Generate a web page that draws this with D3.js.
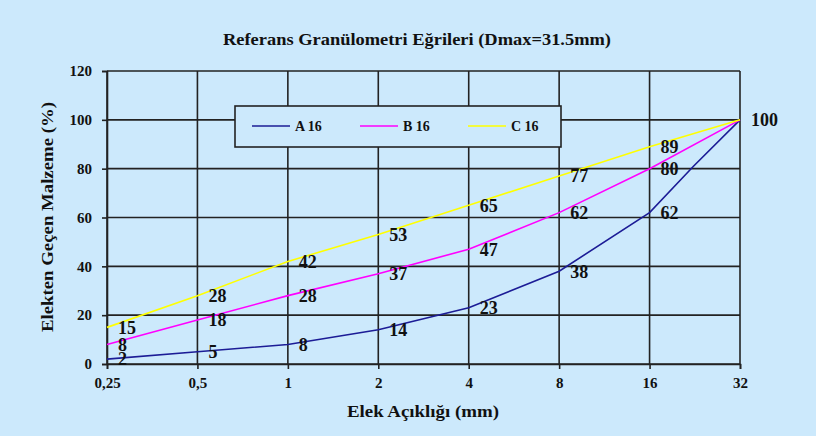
<!DOCTYPE html>
<html>
<head>
<meta charset="utf-8">
<script src="https://cdn.jsdelivr.net/npm/d3@7"></script>
<style>
  body { margin: 0; background: #cce9fc; }
  text { font-family: "Liberation Serif", "DejaVu Serif", serif; font-weight: bold; fill: #111; }
</style>
</head>
<body>
<div id="container"></div>
<script>
let w = 816;
let h = 436;

// sieve sizes (mm) and passing percentages
let sieves = [0.25, 0.5, 1, 2, 4, 8, 16, 32];
let tickLabels = ["0,25", "0,5", "1", "2", "4", "8", "16", "32"];
let aSieves = [0.25, 0.5, 1, 2, 4, 8, 16, 22.4, 32];
let aValues = [2, 5, 8, 14, 23, 38, 62, 81, 100];
let bValues = [8, 18, 28, 37, 47, 62, 80, 100];
let cValues = [15, 28, 42, 53, 65, 77, 89, 100];
let yTicks = [0, 20, 40, 60, 80, 100, 120];
let seriesNames = ["A 16", "B 16", "C 16"];
let seriesColors = ["#1c1c96", "#ff00ff", "#ffff00"];

let plotLeft = 107, plotRight = 740, plotTop = 71, plotBottom = 364;

let viz = d3.select("#container")
  .append("svg")
    .attr("width", w)
    .attr("height", h)
    .style("background-color", "#cce9fc")
;

let xScale = d3.scaleLog().base(2).domain([0.25, 32]).range([plotLeft, plotRight]);
let yScale = d3.scaleLinear().domain([0, 120]).range([plotBottom, plotTop]);

// title
viz.append("text")
  .text("Referans Granülometri Eğrileri (Dmax=31.5mm)")
  .attr("x", 417).attr("y", 45)
  .attr("text-anchor", "middle")
  .attr("textLength", 388).attr("lengthAdjust", "spacingAndGlyphs")
  .style("font-size", "17px")
;

// grid
viz.append("g").selectAll("line").data(yTicks).enter()
  .append("line")
    .attr("x1", plotLeft).attr("x2", plotRight)
    .attr("y1", d => yScale(d)).attr("y2", d => yScale(d))
    .attr("stroke", "#222").attr("stroke-width", 1.6)
;
viz.append("g").selectAll("line").data(sieves).enter()
  .append("line")
    .attr("x1", d => xScale(d)).attr("x2", d => xScale(d))
    .attr("y1", plotTop).attr("y2", plotBottom)
    .attr("stroke", "#222").attr("stroke-width", 1.6)
;

// axes
let xAxis = d3.axisBottom(xScale)
  .tickValues(sieves)
  .tickFormat((d, i) => tickLabels[i])
  .tickSize(5).tickPadding(8);
let xg = viz.append("g").attr("transform", "translate(0," + plotBottom + ")").call(xAxis);
xg.select(".domain").attr("stroke", "#222").attr("stroke-width", 1.6);
xg.selectAll(".tick line").attr("stroke", "#222").attr("stroke-width", 1.6);
xg.selectAll("text").style("font-size", "15px").attr("fill", "#111");

let yAxis = d3.axisLeft(yScale)
  .tickValues(yTicks)
  .tickSize(5).tickPadding(10);
let yg = viz.append("g").attr("transform", "translate(" + plotLeft + ",0)").call(yAxis);
yg.select(".domain").attr("stroke", "#222").attr("stroke-width", 1.6);
yg.selectAll(".tick line").attr("stroke", "#222").attr("stroke-width", 1.6);
yg.selectAll("text").style("font-size", "15px").attr("fill", "#111");

// axis titles
viz.append("text")
  .text("Elek Açıklığı (mm)")
  .attr("x", 423).attr("y", 417)
  .attr("text-anchor", "middle")
  .attr("textLength", 152).attr("lengthAdjust", "spacingAndGlyphs")
  .style("font-size", "16px")
;
viz.append("text")
  .text("Elekten Geçen Malzeme (%)")
  .attr("transform", "translate(53,217) rotate(-90)")
  .attr("text-anchor", "middle")
  .attr("textLength", 230).attr("lengthAdjust", "spacingAndGlyphs")
  .style("font-size", "16px")
;

// lines
let lineGen = d3.line()
  .x(d => xScale(d[0]))
  .y(d => yScale(d[1]));

let seriesData = [
  d3.zip(aSieves, aValues),
  d3.zip(sieves, bValues),
  d3.zip(sieves, cValues)
];

viz.append("g").selectAll("path").data(seriesData).enter()
  .append("path")
    .attr("d", lineGen)
    .attr("fill", "none")
    .attr("stroke", (d, i) => seriesColors[i])
    .attr("stroke-width", 1.6)
;

// data labels (A has no label at 22.4, the 100 end point labelled once)
let labelData = [];
sieves.forEach((s, i) => {
  if (s == 32) return;
  labelData.push([s, aValues[i]]);
  labelData.push([s, bValues[i]]);
  labelData.push([s, cValues[i]]);
});
labelData.push([32, 100]);

viz.append("g").selectAll("text").data(labelData).enter()
  .append("text")
    .text(d => d[1])
    .attr("x", d => xScale(d[0]) + 11)
    .attr("y", d => yScale(d[1]))
    .attr("dy", "0.35em")
    .style("font-size", "18px")
;

// legend
let legend = viz.append("g");
legend.append("rect")
  .attr("x", 235).attr("y", 106)
  .attr("width", 326).attr("height", 41)
  .attr("fill", "#cce9fc")
  .attr("stroke", "#222").attr("stroke-width", 1.6)
;
let legendX = [252, 360, 468];
let items = legend.selectAll(".item").data(seriesNames).enter()
  .append("g")
    .attr("transform", (d, i) => "translate(" + legendX[i] + ",126)")
;
items.append("line")
  .attr("x1", 0).attr("x2", 38)
  .attr("stroke", (d, i) => seriesColors[i])
  .attr("stroke-width", 1.6)
;
items.append("text")
  .text(d => d)
  .attr("x", 43).attr("dy", "0.35em")
  .style("font-size", "14px")
;
</script>
</body>
</html>
